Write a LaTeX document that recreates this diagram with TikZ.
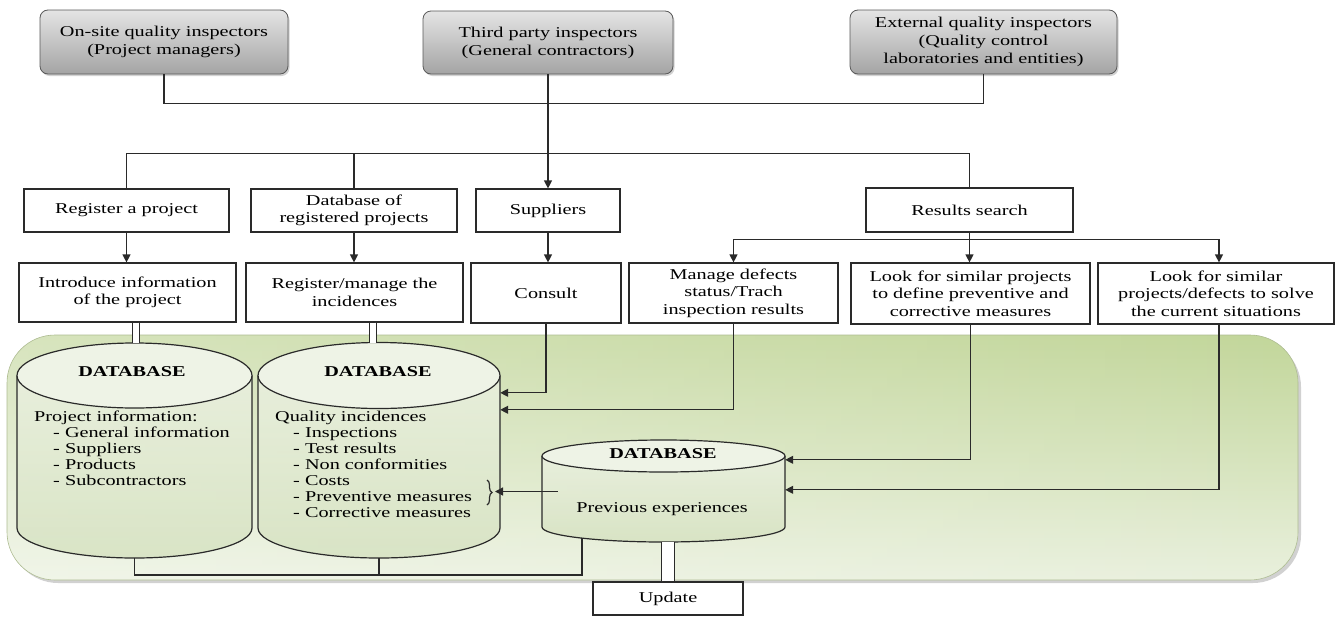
\documentclass[tikz,border=0pt]{standalone}
\usepackage{fontspec}
\setmainfont{Liberation Serif}[FakeStretch=1.35]
\usetikzlibrary{arrows.meta,shadows,fit,calc,decorations.pathreplacing,fadings}
\definecolor{lc}{HTML}{2A2A2A}
\definecolor{gtop}{HTML}{C2D69A}
\definecolor{gbot}{HTML}{E9F0DD}
\definecolor{cyltop}{HTML}{EEF3E6}
\definecolor{cylbot}{HTML}{D6E2C1}
\definecolor{graytop}{HTML}{E4E4E4}
\definecolor{graybot}{HTML}{A4A4A4}
\begin{document}
\begin{tikzpicture}[x=1pt,y=-1pt,
  txt/.style={font=\fontsize{15}{17.5}\selectfont, align=center, text=black},
  box/.style={txt, draw=lc, line width=1.2pt, fill=white, inner sep=0pt},
  topbox/.style={txt, font=\fontsize{15}{18}\selectfont, draw=gray!70!black, line width=0.8pt, rounded corners=8pt,
    top color=graytop, bottom color=graybot, inner sep=0pt,
    drop shadow={shadow xshift=1.5pt, shadow yshift=-2pt, opacity=0.35}},
  dbtitle/.style={txt, font=\fontsize{15}{17.5}\selectfont\bfseries},
  dblist/.style={font=\fontsize{15}{16}\selectfont, align=left, anchor=north west, inner sep=0pt},
  ln/.style={draw=lc, line width=1.2pt},
  arr/.style={ln, -{Triangle[length=8pt,width=8pt]}},
  dbl/.style={draw=lc, line width=1.1pt, double=white, double distance=6.5pt},
  dblwide/.style={draw=lc, line width=1.1pt, double=white, double distance=11.5pt},
  cylfill/.style={top color=cyltop, bottom color=cylbot, fill opacity=0.85},
  cylline/.style={draw=lc, line width=1.2pt},
  anchorbox/.style={inner sep=0pt, draw=none}
]
\useasboundingbox (0,0) rectangle (1336,616);
\fill[white] (0,0) rectangle (1336,616);

% green area
\fill[black, opacity=0.18, rounded corners=48pt] (10,339) rectangle (1301,583);
\shade[top color=gtop, bottom color=gbot, rounded corners=48pt] (7,335) rectangle (1298,580);
\fill[white, fill opacity=0.35, path fading=east, rounded corners=48pt] (7,335) rectangle (1298,580);
\draw[draw=gtop!70!gray, line width=0.6pt, rounded corners=48pt] (7,335) rectangle (1298,580);

% cylinder 1
\path[cylfill] (17,375.5) -- (17,528) arc[start angle=180,end angle=0,x radius=117.5,y radius=30]
  -- (252,375.5) arc[start angle=0,end angle=-180,x radius=117.5,y radius=32.5] -- cycle;
\draw[cylline] (17,375.5) -- (17,528) arc[start angle=180,end angle=0,x radius=117.5,y radius=30] -- (252,375.5);
\draw[cylline, fill=cyltop] (134.5,375.5) ellipse [x radius=117.5, y radius=32.5];
% cylinder 2
\path[cylfill] (258,375.5) -- (258,528) arc[start angle=180,end angle=0,x radius=121,y radius=30]
  -- (500,375.5) arc[start angle=0,end angle=-180,x radius=121,y radius=33] -- cycle;
\draw[cylline] (258,375.5) -- (258,528) arc[start angle=180,end angle=0,x radius=121,y radius=30] -- (500,375.5);
\draw[cylline, fill=cyltop] (379,375.5) ellipse [x radius=121, y radius=33];
% cylinder 3
\path[cylfill] (542,456) -- (542,527) arc[start angle=180,end angle=0,x radius=121.5,y radius=15]
  -- (785,456) arc[start angle=0,end angle=-180,x radius=121.5,y radius=16] -- cycle;
\draw[cylline] (542,456) -- (542,527) arc[start angle=180,end angle=0,x radius=121.5,y radius=15] -- (785,456);
\draw[cylline, fill=cyltop] (663.5,456) ellipse [x radius=121.5, y radius=16];

% anchor boxes for the cylinders
\node[anchorbox, fit={(17,375.5) (252,528)}] (db1) {};
\node[anchorbox, fit={(258,375.5) (500,528)}] (db2) {};
\node[anchorbox, fit={(542,456) (785,527)}] (db3) {};
\coordinate (db1top) at (136,343.2);
\coordinate (db2top) at (373,342.7);
\coordinate (db1bot) at (134.5,558);
\coordinate (db2bot) at (379,558);
\coordinate (db3bl) at (582,538);
\coordinate (db3bot) at (668,542);
\coordinate (bus) at (0,575);
\coordinate (bracetip) at (495,492.5);

% cylinder texts
\node[dbtitle] (db1t) at (132,372) {DATABASE};
\node[dbtitle] (db2t) at (378,372) {DATABASE};
\node[dbtitle] (db3t) at (663,454) {DATABASE};
\node[dblist] (db1l) at (34,411) {Project information:\\\hspace*{19pt}- General information\\\hspace*{19pt}- Suppliers\\\hspace*{19pt}- Products\\\hspace*{19pt}- Subcontractors};
\node[dblist] (db2l) at (275,411) {Quality incidences\\\hspace*{18pt}- Inspections\\\hspace*{18pt}- Test results\\\hspace*{18pt}- Non conformities\\\hspace*{18pt}- Costs\\\hspace*{18pt}- Preventive measures\\\hspace*{18pt}- Corrective measures};
\node[txt] (db3l) at (662,509) {Previous experiences};
\draw[ln, decorate, decoration={brace, amplitude=5pt}] (487,480) -- (487,505);

% top boxes
\node[topbox, minimum width=248pt, minimum height=64pt] (t1) at (164,42) {On-site quality inspectors\\(Project managers)};
\node[topbox, minimum width=250pt, minimum height=63pt] (t2) at (548,42.5) {Third party inspectors\\(General contractors)};
\node[topbox, minimum width=267pt, minimum height=64pt] (t3) at (983.5,42) {External quality inspectors\\(Quality control\\laboratories and entities)};

% second row
\node[box, minimum width=205pt, minimum height=43pt] (reg) at (126.5,210.5) {Register a project};
\node[box, minimum width=206pt, minimum height=43pt] (dbp) at (354,210.5) {Database of\\registered projects};
\node[box, minimum width=144pt, minimum height=43pt] (sup) at (548,210.5) {Suppliers};
\node[box, minimum width=207pt, minimum height=44pt] (res) at (969.5,210) {Results search};

% third row
\node[box, minimum width=217pt, minimum height=59pt] (intro) at (127.5,292.5) {Introduce information\\of the project};
\node[box, minimum width=217pt, minimum height=59pt] (regman) at (354.5,292.5) {Register/manage the\\incidences};
\node[box, minimum width=150pt, minimum height=60pt] (consult) at (546,293) {Consult};
\node[box, minimum width=209pt, minimum height=60pt] (manage) at (733.5,293) {Manage defects\\status/Trach\\inspection results};
\node[box, minimum width=239pt, minimum height=61pt] (look1) at (970.5,293.5) {Look for similar projects\\to define preventive and\\corrective measures};
\node[box, minimum width=236pt, minimum height=61pt] (look2) at (1216,293.5) {Look for similar\\projects/defects to solve\\the current situations};

% update
\node[box, minimum width=150pt, minimum height=33pt] (update) at (668,598.5) {Update};

% connectors top
\draw[ln] (t1.south) -- ++(0,29) -| (t3.south);
\draw[arr] (t2.south) -- (sup.north);
\draw[ln] (reg.north) -- ++(0,-35) -| (res.north);
\draw[ln] (dbp.north) -- ++(0,-35);
\draw[arr] (reg.south) -- (reg.south |- intro.north);
\draw[arr] (dbp.south) -- (dbp.south |- regman.north);
\draw[arr] (sup.south) -- (sup.south |- consult.north);
\draw[arr] (res.south) -- ++(0,7) -| (manage.north);
\draw[arr] (res.south) -- (res.south |- look1.north);
\draw[arr] (res.south) -- ++(0,7) -| ([xshift=3pt]look2.north);

% connectors to databases
\draw[dbl] (intro.south -| db1top) -- (db1top);
\draw[dbl] (regman.south -| db2top) -- (db2top);
\draw[arr] (consult.south) |- ($(db2.north east)+(0,17.5)$);
\draw[arr] (manage.south) |- ($(db2.north east)+(0,34.5)$);
\draw[arr] (look1.south) |- ($(db3.north east)+(0,4)$);
\draw[arr] ([xshift=3pt]look2.south) |- ($(db3.north east)+(0,34)$);
\draw[arr] ([xshift=16pt]db3.west) -- (db3.west -| bracetip);

% bottom bus
\draw[ln] (db1bot) |- (bus -| db3bl) -- (db3bl);
\draw[ln] (db2bot) -- (db2bot |- bus);
\draw[dblwide] (update.north) -- (update.north |- db3bot);
\end{tikzpicture}
\end{document}
